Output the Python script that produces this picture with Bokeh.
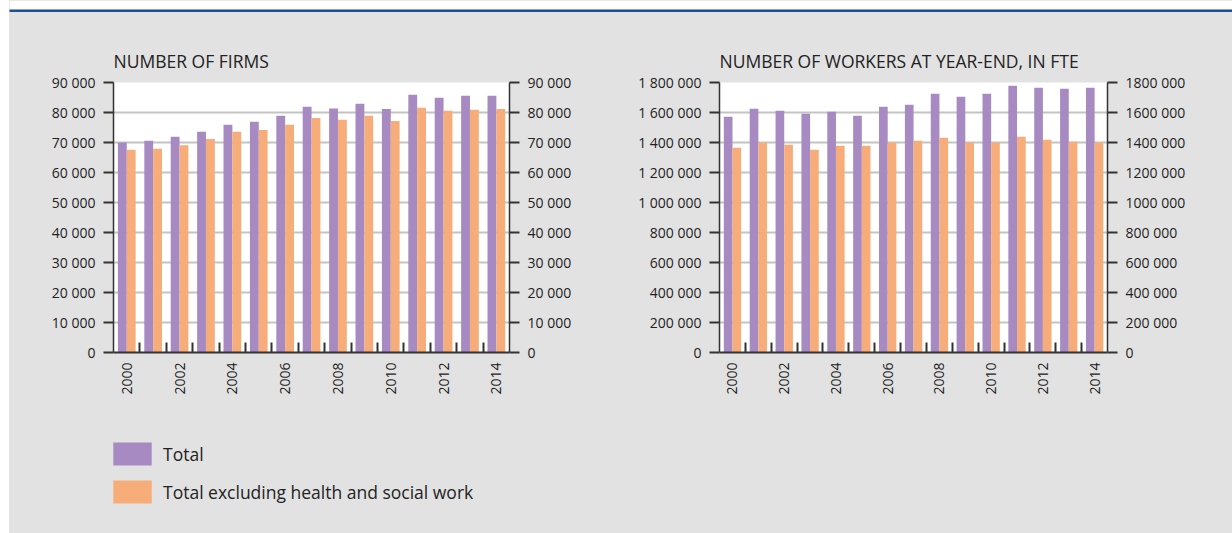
from math import pi
from bokeh.plotting import figure
from bokeh.models import (Range1d, FixedTicker, LinearAxis, Legend, LegendItem,
                          Spacer, ColumnDataSource)
from bokeh.layouts import row, column
from bokeh.transform import dodge
from bokeh.embed import file_html
from bokeh.resources import INLINE

# ---------------- data ----------------
years = list(range(2000, 2015))
firms_total = [70000, 70600, 71900, 73600, 75900, 76900, 78900, 81900,
               81300, 82900, 81200, 85900, 84900, 85600, 85600]
firms_excl = [67600, 67900, 69100, 71200, 73600, 74200, 75900, 78200,
              77600, 78900, 77200, 81600, 80600, 80900, 81200]
workers_total = [1571000, 1625000, 1611000, 1591000, 1605000, 1578000, 1638000,
                 1651000, 1725000, 1705000, 1725000, 1778000, 1765000, 1758000, 1765000]
workers_excl = [1365000, 1400000, 1385000, 1351000, 1378000, 1378000, 1400000,
                1411000, 1431000, 1400000, 1400000, 1438000, 1418000, 1405000, 1400000]

label_years = [2000, 2002, 2004, 2006, 2008, 2010, 2012, 2014]
year_labels = ["2000", "2002", "2004", "2006", "2008", "2010", "2012", "2014"]

firm_ticks = [0, 10000, 20000, 30000, 40000, 50000, 60000, 70000, 80000, 90000]
firm_labels = ["0", "10 000", "20 000", "30 000", "40 000", "50 000",
               "60 000", "70 000", "80 000", "90 000"]
worker_ticks = [0, 200000, 400000, 600000, 800000, 1000000, 1200000,
                1400000, 1600000, 1800000]
worker_labels_left = ["0", "200 000", "400 000", "600 000", "800 000", "1 000 000",
                      "1 200 000", "1 400 000", "1 600 000", "1 800 000"]
worker_labels_right = ["0", "200 000", "400 000", "600 000", "800 000", "1000 000",
                       "1200 000", "1400 000", "1600 000", "1800 000"]

series_names = ["Total", "Total excluding health and social work"]
titles = ["NUMBER OF FIRMS", "NUMBER OF WORKERS AT YEAR-END, IN FTE"]

# ---------------- style ----------------
BG = "#e2e2e2"
PURPLE = "#a78ac1"
ORANGE = "#f6ad7a"
BLUE = "#1f5096"
TXT = "#222222"
AX = "#333333"
FONT = "Open Sans"


def style_y_axis(ax, ticks, labels):
    ax.ticker = FixedTicker(ticks=ticks)
    ax.major_label_overrides = {t: l for t, l in zip(ticks, labels)}
    ax.axis_line_color = AX
    ax.axis_line_width = 1.5
    ax.major_tick_in = 0
    ax.major_tick_out = 10
    ax.major_tick_line_color = AX
    ax.major_tick_line_width = 2
    ax.minor_tick_out = 0
    ax.minor_tick_in = 0
    ax.major_label_text_font = FONT
    ax.major_label_text_font_size = "14px"
    ax.major_label_text_color = TXT
    ax.major_label_standoff = 8


def make_chart(title, total, excl, ticks, left_labels, right_labels, ymax,
               width, bl, br):
    p = figure(width=width, height=403,
               x_range=Range1d(1999.5, 2014.5), y_range=Range1d(0, ymax),
               output_backend="svg", toolbar_location=None,
               min_border_left=bl, min_border_right=br,
               min_border_top=70, min_border_bottom=63,
               background_fill_color="white", border_fill_color=BG,
               outline_line_color=None, title=title)
    p.title.text_font = FONT
    p.title.text_font_size = "17.5px"
    p.title.text_font_style = "normal"
    p.title.text_color = TXT
    p.title.align = "left"
    p.title.standoff = 20

    src = ColumnDataSource(dict(year=years, total=total, excl=excl))
    p.vbar(x=dodge("year", -0.165), top="total", bottom=0, width=0.335,
           source=src, fill_color=PURPLE, line_color=None)
    p.vbar(x=dodge("year", 0.17), top="excl", bottom=0, width=0.335,
           source=src, fill_color=ORANGE, line_color=None)

    style_y_axis(p.yaxis[0], ticks, left_labels)
    rax = LinearAxis()
    style_y_axis(rax, ticks, right_labels)
    p.add_layout(rax, "right")

    xa = p.xaxis[0]
    xa.ticker = FixedTicker(ticks=label_years,
                            minor_ticks=[y + 0.5 for y in years[:-1]])
    xa.major_label_overrides = {t: l for t, l in zip(label_years, year_labels)}
    xa.major_label_orientation = pi / 2
    xa.major_tick_in = 0
    xa.major_tick_out = 0
    xa.minor_tick_in = 10
    xa.minor_tick_out = 0
    xa.minor_tick_line_color = AX
    xa.minor_tick_line_width = 2
    xa.axis_line_color = AX
    xa.axis_line_width = 2
    xa.major_label_text_font = FONT
    xa.major_label_text_font_size = "14px"
    xa.major_label_text_color = TXT
    xa.major_label_standoff = 10

    p.xgrid.visible = False
    p.ygrid.ticker = FixedTicker(ticks=ticks)
    p.ygrid.grid_line_color = "#c4c4c4"
    p.ygrid.grid_line_width = 2
    return p


f1 = make_chart(titles[0], firms_total, firms_excl, firm_ticks, firm_labels,
                firm_labels, 90000, 607, 104, 107)
f2 = make_chart(titles[1], workers_total, workers_excl, worker_ticks,
                worker_labels_left, worker_labels_right, 1800000, 616, 103, 125)

header = figure(width=1223, height=12, min_border_top=9, min_border_bottom=0,
                min_border_left=0, min_border_right=0,
                x_axis_type=None, y_axis_type=None,
                background_fill_color=BLUE, border_fill_color="white",
                outline_line_color=None, output_backend="svg",
                toolbar_location=None)

legfig = figure(width=1223, height=118, min_border=0,
                x_axis_type=None, y_axis_type=None,
                x_range=Range1d(0, 1), y_range=Range1d(0, 1),
                background_fill_color=BG, border_fill_color=BG,
                outline_line_color=None, output_backend="svg",
                toolbar_location=None)
# legend-only renderers, their single bar sits outside the visible range
r1 = legfig.vbar(x=[-5], top=[-5], bottom=[-6], width=0.1,
                 fill_color=PURPLE, line_color=None)
r2 = legfig.vbar(x=[-5], top=[-5], bottom=[-6], width=0.1,
                 fill_color=ORANGE, line_color=None)
legend = Legend(items=[LegendItem(label=series_names[0], renderers=[r1]),
                       LegendItem(label=series_names[1], renderers=[r2])],
                location=(99, 27), orientation="vertical",
                glyph_width=48, glyph_height=29, label_height=23,
                label_standoff=7, spacing=9, padding=0, margin=0,
                border_line_color=None, background_fill_alpha=0,
                label_text_font=FONT, label_text_font_size="17.5px",
                label_text_color=TXT)
legfig.add_layout(legend)

charts = row(f1, f2, styles={"background-color": BG})
body = column(header, charts, legfig, styles={"background-color": BG})
layout = row(Spacer(width=9, height=533), body)

open("out.html", "w").write(file_html(layout, INLINE))
